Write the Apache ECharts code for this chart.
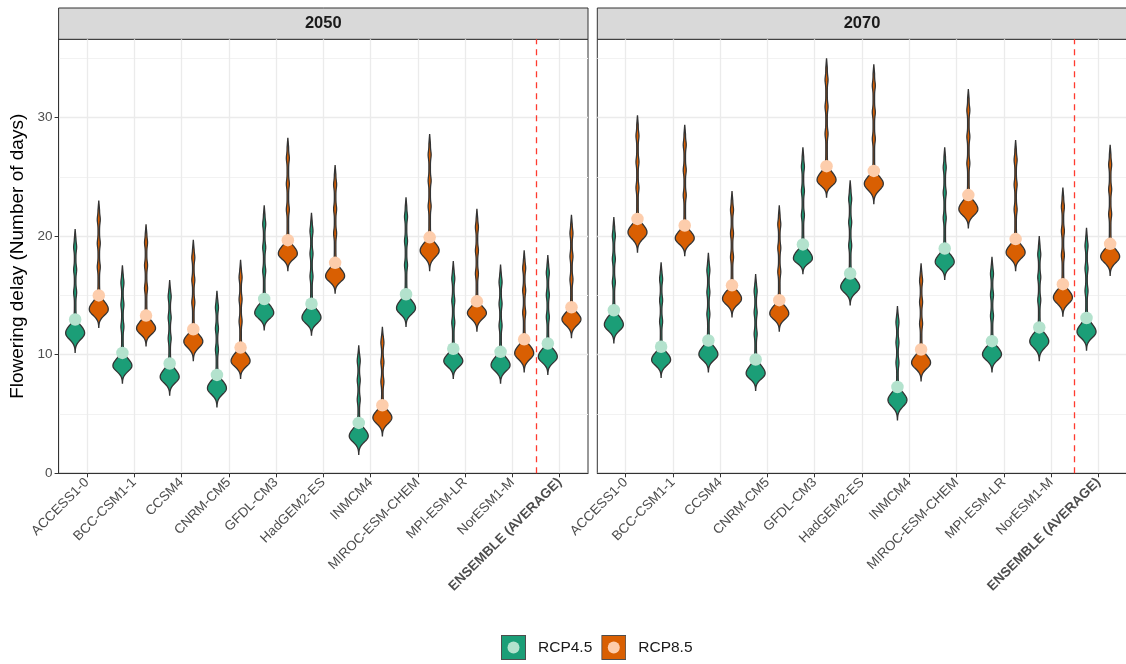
<!DOCTYPE html>
<html>
<head>
<meta charset="utf-8">
<script src="https://cdn.jsdelivr.net/npm/echarts@6/dist/echarts.min.js"></script>
<style>
  html, body { margin: 0; padding: 0; background: #ffffff; }
  #chart { width: 1126px; height: 664px; }
</style>
</head>
<body>
<div id="chart"></div>
<script>
// Climate models (the ensemble average is plotted last, after the divider)
const models = ['ACCESS1-0', 'BCC-CSM1-1', 'CCSM4', 'CNRM-CM5', 'GFDL-CM3', 'HadGEM2-ES',
  'INMCM4', 'MIROC-ESM-CHEM', 'MPI-ESM-LR', 'NorESM1-M', 'ENSEMBLE (AVERAGE)'];
const periods = ['2050', '2070'];
const scenarios = ['RCP4.5', 'RCP8.5'];

// Flowering delay (days): lower end, density peak, mean and upper end of each distribution
// 2050, RCP4.5
const low2050rcp45  = [10.2, 7.6, 6.6, 5.6, 12.1, 11.65, 1.6, 12.4, 8.0, 7.6, 8.35];
const peak2050rcp45 = [11.8, 9.05, 8.1, 7.15, 13.5, 13.1, 3.12, 13.9, 9.45, 9.1, 9.8];
const mean2050rcp45 = [12.97, 10.15, 9.26, 8.3, 14.7, 14.3, 4.25, 15.1, 10.5, 10.24, 10.95];
const high2050rcp45 = [20.6, 17.55, 16.3, 15.4, 22.6, 21.97, 10.8, 23.27, 17.9, 17.6, 18.4];
// 2050, RCP8.5
const low2050rcp85  = [12.3, 10.75, 9.5, 8.0, 17.1, 15.2, 3.15, 17.1, 12.0, 8.55, 11.45];
const peak2050rcp85 = [13.8, 12.2, 11.1, 9.45, 18.5, 16.6, 4.67, 18.76, 13.5, 10.1, 12.97];
const mean2050rcp85 = [15.0, 13.3, 12.15, 10.6, 19.66, 17.75, 5.74, 19.9, 14.5, 11.3, 14.0];
const high2050rcp85 = [23.0, 21.0, 19.7, 18.0, 28.3, 26.0, 12.35, 28.6, 22.3, 18.8, 21.8];
// 2070, RCP4.5
const low2070rcp45  = [11.0, 8.1, 8.55, 7.0, 16.85, 14.2, 4.5, 16.35, 8.55, 9.5, 10.4];
const peak2070rcp45 = [12.5, 9.55, 10.0, 8.4, 18.1, 15.7, 6.16, 17.8, 10.0, 11.1, 11.9];
const mean2070rcp45 = [13.75, 10.67, 11.2, 9.6, 19.3, 16.85, 7.28, 18.96, 11.14, 12.3, 13.1];
const high2070rcp45 = [21.6, 17.8, 18.6, 16.8, 27.5, 24.7, 14.1, 27.5, 18.25, 20.0, 20.7];
// 2070, RCP8.5
const low2070rcp85  = [18.65, 18.35, 13.2, 12.0, 23.3, 22.75, 7.8, 20.7, 17.1, 13.25, 16.7];
const peak2070rcp85 = [20.3, 19.8, 14.7, 13.45, 24.7, 24.4, 9.3, 22.25, 18.6, 14.8, 18.25];
const mean2070rcp85 = [21.45, 20.9, 15.85, 14.6, 25.9, 25.5, 10.44, 23.46, 19.75, 15.95, 19.35];
const high2070rcp85 = [30.2, 29.4, 23.8, 22.6, 35.0, 34.5, 17.7, 32.4, 28.1, 24.1, 27.7];

// Axis ticks
const yMajorTicks = [0, 10, 20, 30];
const yMinorTicks = [5, 15, 25, 35];
const modelPositions = models.map((m, i) => i + 1);
const dividerAt = 10.5;

// Styling
const fillColors = ['#1B9E77', '#D95F02'];
const meanColors = ['#B3E2CD', '#FDCDAC'];
const outline = '#333333';
const font = 'Liberation Sans, Arial, Helvetica, sans-serif';
const dodge = 0.25;

const stats = {
  '2050': [
    [low2050rcp45, peak2050rcp45, mean2050rcp45, high2050rcp45],
    [low2050rcp85, peak2050rcp85, mean2050rcp85, high2050rcp85]
  ],
  '2070': [
    [low2070rcp45, peak2070rcp45, mean2070rcp45, high2070rcp45],
    [low2070rcp85, peak2070rcp85, mean2070rcp85, high2070rcp85]
  ]
};

// Violin outline: a skewed bulge around the density peak with a long thin upper tail
function violinItem(params, api) {
  const x = api.value(0), lo = api.value(1), peak = api.value(2), mean = api.value(3), hi = api.value(4);
  const band = api.size([1, 0])[0];
  const bulge = band * 0.2;
  const tail = 0.75;
  const sLow = (peak - lo) / 3.2;
  const sHigh = (mean - peak) / 2;
  const n = 160;
  const right = [], left = [];
  for (let k = 0; k <= n; k++) {
    const v = lo + (hi - lo) * k / n;
    const z = (v - peak) / (v < peak ? sLow : sHigh);
    let w = bulge * Math.exp(-0.5 * z * z);
    if (v > peak) {
      const rise = Math.min(1, (v - peak) / 0.6);
      const fade = Math.max(0, Math.min(1, (hi - v) / 0.8));
      let bead = 0;
      [0.3, 0.55, 0.8].forEach(f => {
        const c = mean + (hi - mean) * f;
        bead += Math.exp(-0.5 * Math.pow((v - c) / 0.3, 2));
      });
      w += tail * rise * fade * (1 + 1.0 * bead);
    }
    const p = api.coord([x, v]);
    right.push([p[0] + w, p[1]]);
    left.push([p[0] - w, p[1]]);
  }
  return {
    type: 'polygon',
    shape: { points: right.concat(left.reverse()) },
    style: { fill: api.visual('color'), stroke: outline, lineWidth: 1.3 }
  };
}

// Legend key: filled square with the mean dot inside
function legendKey(fill, dot) {
  const svg = '<svg xmlns="http://www.w3.org/2000/svg" width="25" height="25" viewBox="0 0 25 25">' +
    '<rect x="0.5" y="0.5" width="24" height="24" fill="' + fill + '" stroke="#4D4D4D" stroke-width="1"/>' +
    '<circle cx="12.5" cy="12.5" r="6" fill="' + dot + '"/></svg>';
  return 'image://data:image/svg+xml;charset=utf-8,' + encodeURIComponent(svg);
}

// Panel geometry
const panelLefts = [58.6, 597.3];
const panelTop = 39.3;
const panelWidth = 529.4;
const panelHeight = 434;
const stripTop = 8;
const stripHeight = 31.3;
const yMax = 36.6;
const tickFont = 13.5;

const grids = [], xAxes = [], yAxes = [], series = [];

periods.forEach((period, p) => {
  grids.push({
    left: panelLefts[p], top: panelTop, width: panelWidth, height: panelHeight,
    show: true, borderColor: outline, borderWidth: 1, backgroundColor: '#ffffff',
    containLabel: false, outerBoundsMode: 'none'
  });
});
periods.forEach((period, p) => {
  grids.push({
    left: panelLefts[p], top: stripTop, width: panelWidth, height: stripHeight,
    show: true, borderColor: outline, borderWidth: 1, backgroundColor: '#D9D9D9',
    containLabel: false, outerBoundsMode: 'none'
  });
});

periods.forEach((period, p) => {
  xAxes.push({
    type: 'value', gridIndex: p, min: 0.4, max: 11.6,
    axisLine: { show: true, lineStyle: { color: outline, width: 1 } },
    axisTick: { show: true, length: 4, lineStyle: { color: outline, width: 1 }, customValues: modelPositions },
    axisLabel: {
      show: true, customValues: modelPositions, rotate: 45, margin: 7,
      color: '#4D4D4D', fontSize: tickFont, fontFamily: font,
      formatter: v => {
        const name = models[Math.round(v) - 1];
        return name === 'ENSEMBLE (AVERAGE)' ? '{b|' + name + '}' : name;
      },
      rich: { b: { fontWeight: 'bold', color: '#4D4D4D', fontSize: tickFont, fontFamily: font } }
    },
    splitLine: { show: true, lineStyle: { color: '#EBEBEB', width: 1.3 } }
  });
});
periods.forEach((period, p) => {
  xAxes.push({
    type: 'category', gridIndex: 2 + p, data: [period], boundaryGap: true,
    axisLine: { show: false }, axisTick: { show: false }, splitLine: { show: false },
    axisLabel: { inside: true, margin: 7, fontWeight: 'bold', fontSize: 16.5, color: '#1A1A1A', fontFamily: font }
  });
});

periods.forEach((period, p) => {
  yAxes.push({
    type: 'value', gridIndex: p, min: 0, max: yMax,
    name: p === 0 ? 'Flowering delay (Number of days)' : '',
    nameLocation: 'middle', nameGap: 31,
    nameTextStyle: { fontSize: 19, color: '#000000', fontFamily: font },
    axisLine: { show: p === 0, lineStyle: { color: outline, width: 1 } },
    axisTick: { show: p === 0, length: 4, lineStyle: { color: outline }, customValues: yMajorTicks },
    axisLabel: { show: p === 0, customValues: yMajorTicks, margin: 6, color: '#4D4D4D', fontSize: tickFont, fontFamily: font },
    splitLine: { show: true, lineStyle: { color: '#EBEBEB', width: 1.3 } }
  });
  yAxes.push({
    type: 'value', gridIndex: p, min: 0, max: yMax,
    axisLine: { show: false }, axisLabel: { show: false },
    axisTick: { show: false, customValues: yMinorTicks },
    splitLine: { show: true, lineStyle: { color: '#F2F2F2', width: 1 } }
  });
});
periods.forEach((period, p) => {
  yAxes.push({ type: 'value', gridIndex: 2 + p, show: false, min: 0, max: 1, splitLine: { show: false } });
});

periods.forEach((period, p) => {
  scenarios.forEach((sc, s) => {
    const [lows, peaks, means, highs] = stats[period][s];
    const xs = modelPositions.map(v => v + (s === 0 ? -dodge : dodge));
    series.push({
      name: sc, type: 'custom', xAxisIndex: p, yAxisIndex: 2 * p,
      renderItem: violinItem,
      itemStyle: { color: fillColors[s] },
      encode: { x: 0, y: [1, 2, 3, 4] },
      data: xs.map((x, i) => [x, lows[i], peaks[i], means[i], highs[i]]),
      z: 3, silent: true
    });
  });
  scenarios.forEach((sc, s) => {
    const means = stats[period][s][2];
    const xs = modelPositions.map(v => v + (s === 0 ? -dodge : dodge));
    series.push({
      name: sc + ' mean', type: 'scatter', xAxisIndex: p, yAxisIndex: 2 * p,
      symbol: 'circle', symbolSize: 12.5,
      itemStyle: { color: meanColors[s], opacity: 1 },
      data: xs.map((x, i) => [x, means[i]]),
      z: 4, silent: true,
      markLine: s === 1 ? {
        silent: true, symbol: 'none', label: { show: false }, animation: false,
        lineStyle: { color: '#FF3B2F', type: [6, 5], width: 1.3 },
        data: [{ xAxis: dividerAt }]
      } : undefined
    });
  });
});

const option = {
  animation: false,
  backgroundColor: '#ffffff',
  grid: grids,
  xAxis: xAxes,
  yAxis: yAxes,
  legend: {
    left: 496, top: 630, orient: 'horizontal', itemWidth: 25, itemHeight: 25, itemGap: 9,
    selectedMode: false,
    data: scenarios.map((sc, s) => ({ name: sc, icon: legendKey(fillColors[s], meanColors[s]) })),
    textStyle: { fontSize: 15.5, fontFamily: font, color: '#1A1A1A', padding: [0, 0, 0, 7] }
  },
  series: series
};

const chart = echarts.init(document.getElementById('chart'), null, { renderer: 'canvas' });
chart.setOption(option);
</script>
</body>
</html>
